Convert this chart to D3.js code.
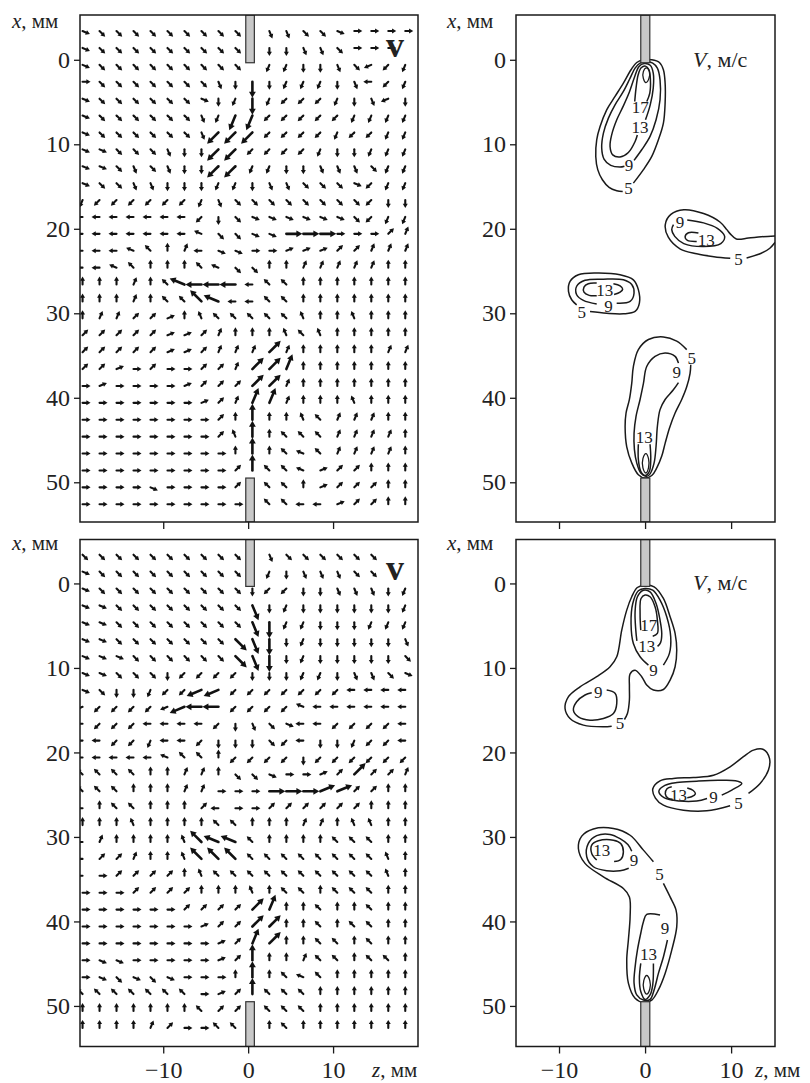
<!DOCTYPE html>
<html><head><meta charset="utf-8">
<script src="https://cdn.jsdelivr.net/npm/d3@7"></script>
<style>
body{margin:0;background:#fff;}
svg{display:block;}
text{font-family:"Liberation Serif","Times New Roman",serif;fill:#222;}
</style></head><body>
<svg id="c" width="810" height="1083"></svg>
<script>
// ---------- axis data ----------
const xTicks = [0, 10, 20, 30, 40, 50];
const zTicks = [-10, 0, 10];
// measurement grid of the vector fields (mm)
const zCols = [-19.5,-17.5,-15.5,-13.5,-11.5,-9.5,-7.5,-5.5,-3.5,-1.5,0.5,2.5,4.5,6.5,8.5,10.5,12.5,14.5,16.5,18.5];
const xRows = [-3.4,-1.4,0.6,2.6,4.6,6.6,8.6,10.6,12.6,14.6,16.6,18.6,20.6,22.6,24.6,26.6,28.6,30.6,32.6,34.6,36.6,38.6,40.6,42.6,44.6,46.6,48.6,50.6,52.6];
// direction codes: a..p = 0..337.5 deg (counter-clockwise from +z, screen up), upper case = strong vector, '.' = none
const fieldTop = [
"poooo ooooo .nnoo paaaa","poooo ooooo .mmnn oaaa.","poooo ooooo .llmm nojkl","aoooo ooonm Mmlll mnikl",
"poooo oopml Mlkkk lmnjm","poooo oonlL Lkkkk kllll","poooo oonKK Kkkkk lkkll","ppooo nmmKK kkkkl mmlll",
"ppono nmmKK llmmn nnoll","poonn mmmll mnnoo opkll","lkkkk kklno ooooo ookmm","iiiii iikmo ppppp pokll",
"iiiii iihoo ppAAA aaacd","iiihg edipp aabbb ccddd","iihge eegho oeedd dddee","eeede gHIII iggee eeeee",
"eeede ggGHi iggee eeeee","eddcc befgg gggfe efeee","ccccc bbcde eefgf eeeee","ccccc bbcdd dCdee eeedd",
"ccbac aaccd CCDee eeeee","abaaa abccc CCdee eeeee","aaaaa aabcd DDdee efeee","aaaaa aaace Eeefg dddee",
"aaaaa aaacf Eeggg dddde","aaaaa aaaae Eeghg dddde","aaaaa aaaac Egghb cceee","aaaap aaaac .ggeb cccee",
"aaaaa aaaaa .ggii bccee"];
const fieldBottom = [
"ooooo ooooo .nooo ooo..","poooo ooooo .lmnn noo..","poooo ooooo mkkmm nnnml","ppooo ooooo Nmlmm mmmml",
"ppooo ooooo NMllm mmlll","ppooo ooooO NMmlm mmmmn","pppoo ooooO NMmlm mmmmo","ppooo mkkkk mmmll mnnop",
"pomml kkJJk kkkkk kiiii","jkkkk jJIIk kkkhi iiiii","ikkki iiikm nopii kkkki","iikkl iikmm mokim mlkki",
"iiiii hggek kkkmk kkkkk","gggge eddeo opaab cCccd","gggee eddaa aAAAB Bccee","iegge eecia acccc cceee",
"eeefe eeegg eeedd effee","ideee efGHH geeee gggee","iccde efGGG ggggg gggfe","iaccc cefgg ggggg gggfe",
"aaacc cceee fegge gggee","aaaaa acccc CDeeg eegee","aaaaa aabcc CCeeg eggee","aaaaa aaabc DCeeg gegee",
"appaa aaabc Eeedg gegge","apopo paaae Eeghg eeeee","ggggg ggabc Eggge eeeee","eeeee eegcc .ggge eeeee",
"eeeed caagg .egee eeeee"];

// ---------- speed contours (z, x in mm) ----------
const top5a = [[-1.36,14.6],[-0.19,13.0],[0.78,11.44],[1.55,9.47],[2.13,7.5],[2.33,5.13],[2.33,2.76],[2.13,1.18],[1.67,0.32],[0.78,0.0],[-0.19,0.0],[-0.97,0.32],[-1.63,1.18],[-2.52,2.76],[-3.49,4.34],[-4.46,5.92],[-5.23,7.9],[-5.62,9.47],[-5.73,11.44],[-5.5,13.0],[-4.96,14.2],[-4.18,15.1],[-3.29,15.5],[-2.6,15.6]];
const top9a = [[-1.28,11.9],[-0.39,10.65],[0.58,9.07],[1.28,7.1],[1.74,4.73],[1.74,2.37],[1.43,0.98],[0.89,0.39],[0.12,0.24],[-0.58,0.39],[-1.16,0.98],[-1.74,2.17],[-2.52,3.75],[-3.49,5.33],[-4.26,6.9],[-4.84,8.68],[-5.04,10.45],[-4.77,11.75],[-3.99,12.5],[-2.91,12.7],[-2.4,12.6]];
const top13a = [[0.05,7.1],[0.6,5.33],[0.95,3.35],[0.95,1.58],[0.6,0.65],[-0.12,0.45],[-0.7,0.79],[-1.2,1.97],[-1.8,3.75],[-2.55,5.52],[-3.29,7.1],[-3.88,8.88],[-4.07,10.26],[-3.76,11.25],[-2.91,11.5],[-1.94,10.97],[-1.16,9.67],[-0.9,8.9]];
const top17a = [[-1.2,4.93],[-1.05,3.35],[-0.8,1.78],[-0.45,0.95],[0.05,0.75],[0.45,1.18],[0.62,2.37],[0.55,3.94],[0.2,4.93]];
const top21a = [[0.15,0.95],[0.5,1.4],[0.45,2.2],[0.1,2.7],[-0.2,2.2],[-0.2,1.4]];
const top5b1 = [[15.12,20.85],[13.5,20.95],[12,21.1],[10.6,21.2],[9.9,20.6],[9.5,20.1],[8.7,19.2],[6.8,18.2],[4.5,17.75],[3.0,18.3],[2.35,19.5],[2.7,21.0],[4.1,22.4],[6,22.96],[8,23.3],[9.9,23.5]];
const top5b2 = [[11.8,23.45],[13.5,22.9],[14.5,22.3],[15.12,21.6]];
const top9b = [[4.9,18.95],[6.8,19.3],[8.4,19.95],[9.25,20.9],[8.8,21.75],[6.8,22.1],[4.5,21.75],[3.45,20.9],[3.1,20.1],[3.3,19.5]];
const top13b = [[6.2,20.5],[5.04,20.47],[4.65,20.98],[4.92,21.38],[6.0,21.5]];
const top5c = [[-6.4,29.8],[-4.46,30.0],[-2.52,30.06],[-1.16,29.78],[-0.66,28.8],[-0.78,27.2],[-1.36,26.04],[-2.91,25.44],[-5.62,25.24],[-7.75,25.44],[-8.72,26.23],[-8.9,27.4],[-8.53,28.4],[-7.95,29.0]];
const top9c = [[-3.3,28.8],[-1.74,28.6],[-1.28,27.6],[-1.55,26.6],[-2.52,26.04],[-4.84,25.96],[-6.98,26.1],[-7.95,26.8],[-7.95,27.8],[-7.17,28.48],[-5.62,28.9]];
const top13c1 = [[-5.62,26.43],[-6.6,26.5],[-7.1,26.9],[-7.1,27.5],[-6.5,27.88],[-5.62,27.93]];
const top13c2 = [[-3.68,26.5],[-2.9,26.75],[-2.6,27.14],[-2.9,27.5],[-3.6,27.77]];
const top5d = [[4.84,34.3],[3.68,33.3],[2.13,32.8],[0.39,33.1],[-0.78,34.3],[-1.36,36.3],[-1.55,38.3],[-1.82,40.2],[-2.21,41.8],[-2.32,43.4],[-2.13,45.8],[-1.55,47.7],[-0.78,49.1],[0,49.5],[0.78,49.2],[1.36,48.3],[1.94,46.9],[2.33,45.4],[2.83,43.6],[3.49,41.8],[4.26,40.2],[4.84,38.7],[5.23,37.1],[5.31,36.1]];
const top9d = [[3.88,35.9],[3.49,35.1],[2.33,34.7],[1.16,35.1],[0.19,36.3],[-0.19,38.3],[-0.58,40.2],[-1.05,42.2],[-1.28,44.2],[-1.24,46.1],[-0.97,47.7],[-0.5,48.9],[0.19,49.3],[0.58,49.0],[1.05,47.7],[1.28,45.7],[1.43,43.4],[1.74,41.4],[2.33,40.2],[3.29,39.05],[3.88,38.2]];
const top13d = [[-0.78,45.5],[-0.78,47.3],[-0.5,48.7],[0,49.2],[0.5,48.7],[0.66,47.3],[0.58,45.5]];
const top17d = [[0.1,46.6],[0.4,47.2],[0.4,48.3],[0.1,48.9],[-0.25,48.3],[-0.25,47.2]];

const bot5a = [[-3.88,16.9],[-4.84,16.97],[-7.17,16.77],[-8.72,15.98],[-9.3,14.8],[-8.9,13.4],[-7.56,12.23],[-5.62,11.04],[-4.07,9.86],[-3.29,8.68],[-2.71,5.52],[-2.13,3.16],[-1.55,1.58],[-0.9,0.48],[0,0.2],[1.05,0.4],[2.13,1.78],[2.91,3.95],[3.49,5.92],[3.68,7.89],[3.49,9.86],[2.91,11.44],[2.13,12.55],[0.97,12.62],[0.19,12.03],[-0.39,11.04],[-1.16,10.26],[-1.74,10.7],[-1.82,12.23],[-1.82,13.8],[-2.05,15.4],[-2.4,16.1]];
const bot9a = [[0.39,9.67],[-0.58,8.68],[-1.36,7.1],[-1.63,4.73],[-1.43,2.37],[-0.78,0.87],[0,0.6],[0.89,0.8],[1.74,1.97],[2.52,3.95],[2.98,6.3],[2.83,8.28],[2.13,9.67]];
const bot13a = [[-0.95,6.8],[-1.08,5.52],[-1.16,3.35],[-0.89,1.58],[-0.19,0.8],[0.58,1.0],[1.28,2.37],[1.74,4.34],[1.94,5.92],[1.8,7.0],[1.45,7.45]];
const bot17a = [[-0.5,5.52],[-0.58,3.55],[-0.47,1.78],[0,1.38],[0.58,1.58],[1.16,2.76],[1.43,4.34],[1.43,5.92],[0.89,6.24]];
const bot9b = [[-4.46,12.62],[-3.49,13.0],[-3.29,14.2],[-3.68,15.4],[-4.84,15.98],[-6.4,16.18],[-7.75,15.8],[-8.33,15.0],[-7.95,14.0],[-6.98,13.2],[-6.2,12.94]];
const bot5b = [[12.02,24.85],[13.37,23.67],[14.34,22.09],[14.46,20.7],[13.76,19.65],[12.6,19.73],[11.43,20.5],[9.88,21.7],[7.95,22.7],[5.62,22.96],[3.29,23.08],[1.74,23.36],[0.9,24.3],[1.2,25.4],[2.13,26.24],[4.46,26.83],[7.17,26.9],[9.88,26.3]];
const bot9c = [[8.91,25.05],[10.08,24.45],[11.24,23.67],[10.5,23.35],[8.5,23.3],[6.0,23.4],[3.7,23.55],[2.3,23.9],[1.6,24.6],[2.2,25.35],[4.0,25.75],[6.0,25.75],[7.2,25.45]];
const bot13b1 = [[3.1,24.06],[2.55,24.3],[2.35,24.9],[2.7,25.45],[3.2,25.55]];
const bot13b2 = [[4.9,24.2],[5.6,24.5],[5.85,24.9],[5.4,25.25],[4.9,25.35]];
const bot5c = [[0.97,32.94],[-0.19,31.56],[-1.74,29.8],[-3.68,29.0],[-6.01,29.05],[-7.36,29.9],[-7.75,31.36],[-6.98,33.13],[-4.84,34.72],[-2.52,36.1],[-1.82,37.1],[-1.74,39.45],[-1.94,42.2],[-2.13,44.58],[-1.94,47.3],[-1.16,49.1],[-0.19,49.6],[0.78,49.3],[1.55,48.1],[2.33,46.15],[3.1,43.4],[3.68,40.64],[3.6,38.66],[2.91,37.1],[2.13,35.5]];
const bot9d = [[-1.55,31.7],[-2.0,30.9],[-2.91,30.2],[-4.07,29.7],[-5.62,29.85],[-6.59,30.77],[-6.78,32.35],[-6.01,33.53],[-4.46,34.0],[-2.91,34.0],[-1.9,33.7]];
const bot13c = [[-5.62,32.74],[-6.2,31.95],[-6.2,30.97],[-5.43,30.45],[-3.68,30.38],[-2.83,30.77],[-2.52,31.75],[-2.83,32.66],[-3.6,32.9]];
const bot9e = [[1.74,39.25],[0.19,39.17],[-0.19,40.03],[-0.5,41.4],[-0.89,43.4],[-1.16,45.4],[-1.28,47.3],[-0.97,48.7],[-0.19,49.3],[0.58,49.23],[1.05,48.1],[1.55,46.15],[2.13,44.2],[2.6,42.2]];
const bot13e = [[-0.5,44.97],[-0.66,46.75],[-0.5,48.3],[0,49.23],[0.58,48.7],[0.89,47.5],[0.97,44.97]];
const bot17e = [[0.19,46.4],[0.55,47.0],[0.55,48.0],[0.19,48.6],[-0.15,48.0],[-0.15,47.0]];

const openTop = [top5a, top9a, top13a, top17a, top5b1, top5b2, top9b, top13b, top5c, top9c, top13c1, top13c2, top5d, top9d, top13d];
const closedTop = [top21a, top17d];
const openBot = [bot5a, bot9a, bot13a, bot17a, bot9b, bot5b, bot9c, bot13b1, bot13b2, bot5c, bot9d, bot13c, bot9e, bot13e];
const closedBot = [bot17e];
// level labels: [text, z, x]
const labelsTop = [["5",-1.94,15.2],["9",-1.86,12.5],["13",-0.6,8.0],["17",-0.55,5.55],["9",4.07,19.25],["13",7.1,21.3],["5",10.85,23.55],
  ["5",-7.36,29.9],["9",-4.26,29.2],["13",-4.7,27.2],["5",5.43,35.25],["9",3.68,37.0],["13",-0.1,44.6]];
const labelsBot = [["17",0.42,4.94],["13",0.2,7.42],["9",0.97,10.26],["9",-5.43,12.9],["5",-2.91,16.5],["13",3.88,25.0],["9",7.95,25.3],["5",10.85,26.0],
  ["13",-5.04,31.56],["9",-1.28,32.7],["5",1.67,34.4],["9",2.33,40.8],["13",0.39,43.8]];

// ---------- layout ----------
const svg = d3.select("#c");
const zL = d3.scaleLinear().domain([-19.8, 20.0]).range([80, 418]);
const zR = d3.scaleLinear().domain([-15, 15.1]).range([516, 775]);
const xT = d3.scaleLinear().domain([-5.3, 54.7]).range([15, 522]);
const xB = d3.scaleLinear().domain([-5.2, 54.8]).range([539.5, 1046.5]);
const INK = "#1a1a1a";
const DIRS = "abcdefghijklmnop";
const FONT = '"Liberation Serif","Times New Roman",serif';
let clipId = 0;

function panel(z, x, opts) {
  const g = svg.append("g");
  const [zx0, zx1] = z.range(), [y0, y1] = x.range();
  const id = "clip" + (clipId++);
  svg.append("clipPath").attr("id", id).append("rect").attr("x", zx0).attr("y", y0).attr("width", zx1 - zx0).attr("height", y1 - y0);
  const body = g.append("g").attr("clip-path", `url(#${id})`);
  opts.draw(body);
  // rods (nozzles)
  const rz = opts.rod;
  [[x.domain()[0], 0.35], [49.5, x.domain()[1]]].forEach(([a, b]) => {
    body.append("rect").attr("x", z(rz[0])).attr("y", x(a)).attr("width", z(rz[1]) - z(rz[0])).attr("height", x(b) - x(a))
      .attr("fill", "#c8c8c8").attr("stroke", "#333").attr("stroke-width", 1.2);
  });
  g.append("rect").attr("x", zx0).attr("y", y0).attr("width", zx1 - zx0).attr("height", y1 - y0)
    .attr("fill", "none").attr("stroke", INK).attr("stroke-width", 1.5);
  // y axis
  const ay = g.append("g").attr("transform", `translate(${zx0},0)`)
    .call(d3.axisLeft(x).tickValues(xTicks).tickSize(6).tickPadding(4).tickFormat(d3.format("d")));
  ay.select(".domain").remove();
  ay.selectAll("line").attr("stroke", INK).attr("stroke-width", 1.3);
  ay.selectAll("text").attr("font-size", 24).attr("fill", "#222").style("font-family", FONT);
  // z axis
  const ax = g.append("g").attr("transform", `translate(0,${y1})`)
    .call(d3.axisBottom(z).tickValues(zTicks).tickSize(7).tickPadding(7).tickFormat(opts.zLabels ? d3.format("d") : ""));
  ax.select(".domain").remove();
  ax.selectAll("line").attr("stroke", INK).attr("stroke-width", 1.3);
  ax.selectAll("text").attr("font-size", 24).attr("fill", "#222").style("font-family", FONT);
  // x label
  const t = g.append("text").attr("x", opts.xlab[0]).attr("y", opts.xlab[1]).attr("font-size", 21);
  t.append("tspan").attr("font-style", "italic").text("x");
  t.append("tspan").text(", мм");
  if (opts.zLabels) {
    const tz = g.append("text").attr("x", opts.zlab[0]).attr("y", opts.zlab[1]).attr("font-size", 21);
    tz.append("tspan").attr("font-style", "italic").text("z");
    tz.append("tspan").text(", мм");
  }
  return g;
}

function drawField(g, rows, z, x) {
  rows.forEach((row, j) => {
    const s = row.replace(/ /g, "");
    for (let k = 0; k < s.length; k++) {
      const c = s[k];
      if (c === ".") continue;
      const big = c !== c.toLowerCase();
      const a = DIRS.indexOf(c.toLowerCase()) * Math.PI / 8;
      const L = big ? 16 : 8;
      const ux = Math.cos(a), uy = -Math.sin(a);
      const x0 = z(zCols[k]), y0 = x(xRows[j]);
      const x1 = x0 + ux * L, y1 = y0 + uy * L;
      const hl = big ? 6 : 4.2, hw = big ? 3.4 : 2.5;
      const bx = x1 - ux * hl, by = y1 - uy * hl;
      g.append("line").attr("x1", x0).attr("y1", y0).attr("x2", bx + ux * 0.5).attr("y2", by + uy * 0.5)
        .attr("stroke", "#111").attr("stroke-width", big ? 2.6 : 2.1).attr("stroke-linecap", "round");
      g.append("path").attr("d", `M${x1},${y1}L${bx - uy * hw},${by + ux * hw}L${bx + uy * hw},${by - ux * hw}Z`).attr("fill", "#111");
    }
  });
}

function drawContours(g, open, closed, labels, z, x) {
  const lo = d3.line().x(d => z(d[0])).y(d => x(d[1])).curve(d3.curveCatmullRom.alpha(0.5));
  const lc = d3.line().x(d => z(d[0])).y(d => x(d[1])).curve(d3.curveCatmullRomClosed.alpha(0.5));
  open.forEach(p => g.append("path").attr("d", lo(p)).attr("fill", "none").attr("stroke", INK).attr("stroke-width", 1.5));
  closed.forEach(p => g.append("path").attr("d", lc(p)).attr("fill", "none").attr("stroke", INK).attr("stroke-width", 1.3));
  labels.forEach(([t, a, b]) => g.append("text").attr("x", z(a)).attr("y", x(b)).attr("dy", "0.35em")
    .attr("text-anchor", "middle").attr("font-size", 17).text(t));
}

// top-left: vector field
panel(zL, xT, { rod: [-0.28, 0.73], xlab: [12, 28], zLabels: false,
  draw: g => drawField(g, fieldTop, zL, xT) });
// bottom-left
panel(zL, xB, { rod: [-0.28, 0.73], xlab: [12, 550], zLabels: true, zlab: [372, 1077],
  draw: g => drawField(g, fieldBottom, zL, xB) });
// top-right: contours
panel(zR, xT, { rod: [-0.5, 0.55], xlab: [447, 28], zLabels: false,
  draw: g => drawContours(g, openTop, closedTop, labelsTop, zR, xT) });
// bottom-right
panel(zR, xB, { rod: [-0.5, 0.55], xlab: [447, 550], zLabels: true, zlab: [755, 1077],
  draw: g => drawContours(g, openBot, closedBot, labelsBot, zR, xB) });

// panel marks
[[57], [580]].forEach(([y]) => {
  svg.append("text").attr("x", 386).attr("y", y).attr("font-size", 36).attr("font-weight", "bold").text("v");
  const t = svg.append("text").attr("x", 693).attr("y", y + 10).attr("font-size", 22);
  t.append("tspan").attr("font-style", "italic").text("V");
  t.append("tspan").text(", м/с");
});
</script></body></html>
